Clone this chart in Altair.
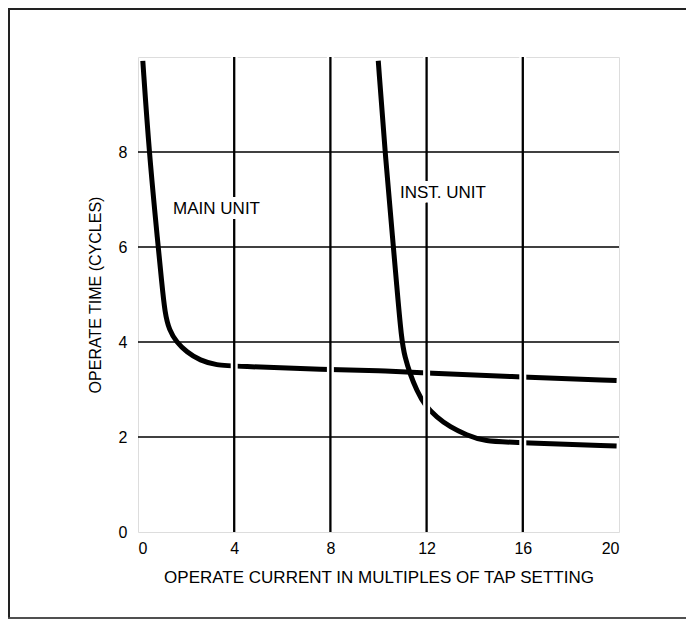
import altair as alt
import pandas as pd

# Main unit curve (operate current multiple, operate time in cycles)
main_x = [0.20, 0.46, 0.84, 0.98, 1.12, 1.30, 1.60, 2.02, 2.58, 3.27, 4.03, 7.85, 10.06, 11.86, 16.02, 19.90]
main_y = [9.92, 8.00, 6.00, 5.29, 4.60, 4.25, 4.00, 3.79, 3.61, 3.51, 3.49, 3.42, 3.40, 3.35, 3.26, 3.19]

# Instantaneous unit curve
inst_x = [9.99, 10.27, 10.62, 10.74, 10.96, 11.10, 11.31, 11.59, 11.93, 12.42, 12.97, 13.67, 14.36, 15.88, 19.90]
inst_y = [9.92, 8.00, 6.00, 5.29, 4.03, 3.68, 3.33, 2.98, 2.66, 2.42, 2.21, 2.04, 1.91, 1.88, 1.81]

label_text = ["MAIN UNIT", "INST. UNIT"]
label_x = [1.46, 10.89]
label_y = [6.80, 7.14]

x_ticks = [0, 4, 8, 12, 16, 20]
y_ticks = [0, 2, 4, 6, 8]
x_grid = [4, 8, 12, 16]
y_grid = [2, 4, 6, 8]

FONT = "Liberation Sans"

curves = pd.DataFrame(
    {"x": main_x + inst_x,
     "y": main_y + inst_y,
     "unit": ["MAIN UNIT"] * len(main_x) + ["INST. UNIT"] * len(inst_x)}
)
labels = pd.DataFrame({"text": label_text, "x": label_x, "y": label_y})
xg = pd.DataFrame({"x": x_grid})
yg = pd.DataFrame({"y": y_grid})

xscale = alt.Scale(domain=[0, 20], nice=False, zero=False)
yscale = alt.Scale(domain=[0, 10], nice=False, zero=False)

xaxis = alt.Axis(
    values=x_ticks, title="OPERATE CURRENT IN MULTIPLES OF TAP SETTING",
    ticks=False, domain=False, grid=False,
    labelFont=FONT, labelFontSize=16, labelColor="black", labelPadding=8,
    titleFont=FONT, titleFontSize=17, titleFontWeight="normal", titleColor="black", titlePadding=13,
)
yaxis = alt.Axis(
    values=y_ticks, title="OPERATE TIME (CYCLES)",
    ticks=False, domain=False, grid=False,
    labelFont=FONT, labelFontSize=16, labelColor="black", labelPadding=11,
    titleFont=FONT, titleFontSize=16, titleFontWeight="normal", titleColor="black", titlePadding=15,
)

lines = alt.Chart(curves).mark_line(
    color="black", strokeWidth=5, interpolate="basis", clip=True
).encode(
    x=alt.X("x:Q", scale=xscale, axis=xaxis),
    y=alt.Y("y:Q", scale=yscale, axis=yaxis),
    detail="unit:N",
    order=alt.Order("x:Q"),
)

vhalo = alt.Chart(xg).mark_rule(color="white", strokeWidth=7).encode(
    x=alt.X("x:Q", scale=xscale))
hgrid = alt.Chart(yg).mark_rule(color="black", strokeWidth=1.6).encode(
    y=alt.Y("y:Q", scale=yscale))
vgrid = alt.Chart(xg).mark_rule(color="black", strokeWidth=2.3).encode(
    x=alt.X("x:Q", scale=xscale))

halo = alt.Chart(labels).mark_text(
    align="left", baseline="middle", font=FONT, fontSize=17,
    color="white", stroke="white", strokeWidth=10
).encode(x=alt.X("x:Q", scale=xscale), y=alt.Y("y:Q", scale=yscale), text="text:N")

text = alt.Chart(labels).mark_text(
    align="left", baseline="middle", font=FONT, fontSize=17, color="black"
).encode(x=alt.X("x:Q", scale=xscale), y=alt.Y("y:Q", scale=yscale), text="text:N")

# outer figure frame (decoration)
frame_left = alt.Chart(labels).mark_rule(color="#222", strokeWidth=2).encode(
    x=alt.value(-129), y=alt.value(-48), y2=alt.value(561))
frame_top = alt.Chart(labels).mark_rule(color="#222", strokeWidth=2).encode(
    x=alt.value(-130), x2=alt.value(560), y=alt.value(-48))
frame_bottom = alt.Chart(labels).mark_rule(color="#444", strokeWidth=1.5).encode(
    x=alt.value(-130), x2=alt.value(560), y=alt.value(561))

chart = alt.layer(
    lines, vhalo, hgrid, vgrid, halo, text, frame_left, frame_top, frame_bottom
).properties(
    width=481, height=475,
    autosize=alt.AutoSizeParams(type="none"),
    padding={"left": 130, "top": 49, "right": 67, "bottom": 88},
).configure_view(stroke="black", strokeWidth=3).configure(background="white")

chart.save("out.html", embed_options={"renderer": "svg", "actions": False})
